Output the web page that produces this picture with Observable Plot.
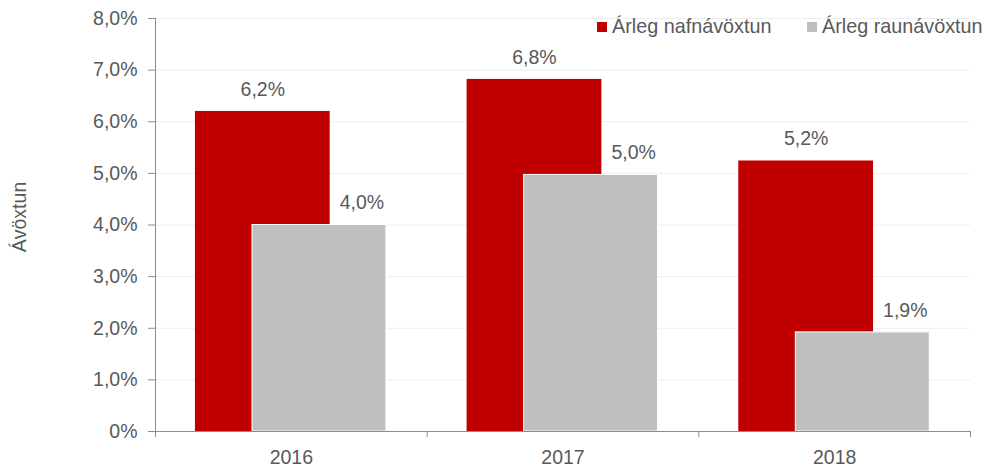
<!DOCTYPE html>
<html>
<head>
<meta charset="utf-8">
<script src="https://cdn.jsdelivr.net/npm/d3@7"></script>
<script src="https://cdn.jsdelivr.net/npm/@observablehq/plot@0.6"></script>
<style>
  html, body { margin: 0; padding: 0; background: #fff; }
  #wrap { position: relative; width: 985px; height: 467px; font-family: "Liberation Sans", Arial, sans-serif; color: #595959; }
  .legend { position: absolute; top: 15px; font-size: 19.8px; display: flex; align-items: center; white-space: nowrap; }
  .sw { display: inline-block; width: 10px; height: 10px; margin-right: 5px; }
  .ytitle { position: absolute; left: 19px; top: 217px; transform: translate(-50%, -50%) rotate(-90deg); font-size: 19.5px; white-space: nowrap; }
</style>
</head>
<body>
<div id="wrap"></div>
<script>
const years = ["2016", "2017", "2018"];
const nominal = [6.2, 6.82, 5.24];
const real = [4.0, 4.97, 1.92];
const seriesNames = ["Árleg nafnávöxtun", "Árleg raunávöxtun"];
const colors = ["#C00000", "#BFBFBF"];
const yTicks = [0, 1, 2, 3, 4, 5, 6, 7, 8];

const fmt = v => v.toFixed(1).replace(".", ",") + "%";
const tickFmt = v => v === 0 ? "0%" : fmt(v);

const nomData = years.map((y, i) => ({i, year: y, v: nominal[i]}));
const realData = years.map((y, i) => ({i, year: y, v: real[i]}));

const chart = Plot.plot({
  width: 985,
  height: 467,
  marginLeft: 155,
  marginRight: 15,
  marginTop: 18,
  marginBottom: 36,
  style: {fontFamily: "'Liberation Sans', Arial, sans-serif", fontSize: "19.5px", color: "#595959", background: "#fff"},
  x: {domain: [0, years.length], axis: null},
  y: {domain: [0, 8], axis: null},
  marks: [
    Plot.gridY(yTicks, {stroke: "#eeeeee", strokeOpacity: 1}),
    Plot.axisY({ticks: yTicks, tickFormat: tickFmt, tickSize: 7, tickPadding: 11, stroke: "#8c8c8c", fill: "#595959", label: null}),
    Plot.ruleX([0], {y1: 0, y2: 8, stroke: "#8c8c8c"}),
    Plot.rectY(nomData, {x1: d => d.i + 0.147, x2: d => d.i + 0.643, y1: 0, y2: "v", fill: colors[0]}),
    Plot.rectY(realData, {x1: d => d.i + 0.357, x2: d => d.i + 0.85, y1: 0, y2: "v", fill: colors[1], stroke: "#fff", strokeWidth: 1}),
    Plot.text(nomData, {x: d => d.i + 0.395, y: "v", text: d => fmt(d.v), dy: -22, fill: "#595959"}),
    Plot.text(realData, {x: d => d.i + 0.76, y: "v", text: d => fmt(d.v), dy: -22, fill: "#595959"}),
    Plot.ruleY([0], {stroke: "#8c8c8c"}),
    Plot.axisX({ticks: d3.range(years.length + 1), tickFormat: () => "", tickSize: 6, stroke: "#8c8c8c", label: null}),
    Plot.text(years, {x: (d, i) => i + 0.5, y: 0, text: d => d, dy: 26, fill: "#595959"})
  ]
});

const wrap = document.getElementById("wrap");
wrap.appendChild(chart);

const leg1 = document.createElement("div");
leg1.className = "legend";
leg1.style.left = "597px";
leg1.innerHTML = `<span class="sw" style="background:${colors[0]}"></span><span>${seriesNames[0]}</span>`;
wrap.appendChild(leg1);
const leg2 = document.createElement("div");
leg2.className = "legend";
leg2.style.left = "807px";
leg2.innerHTML = `<span class="sw" style="background:${colors[1]}"></span><span>${seriesNames[1]}</span>`;
wrap.appendChild(leg2);

const yt = document.createElement("div");
yt.className = "ytitle";
yt.textContent = "Ávöxtun";
wrap.appendChild(yt);
</script>
</body>
</html>
